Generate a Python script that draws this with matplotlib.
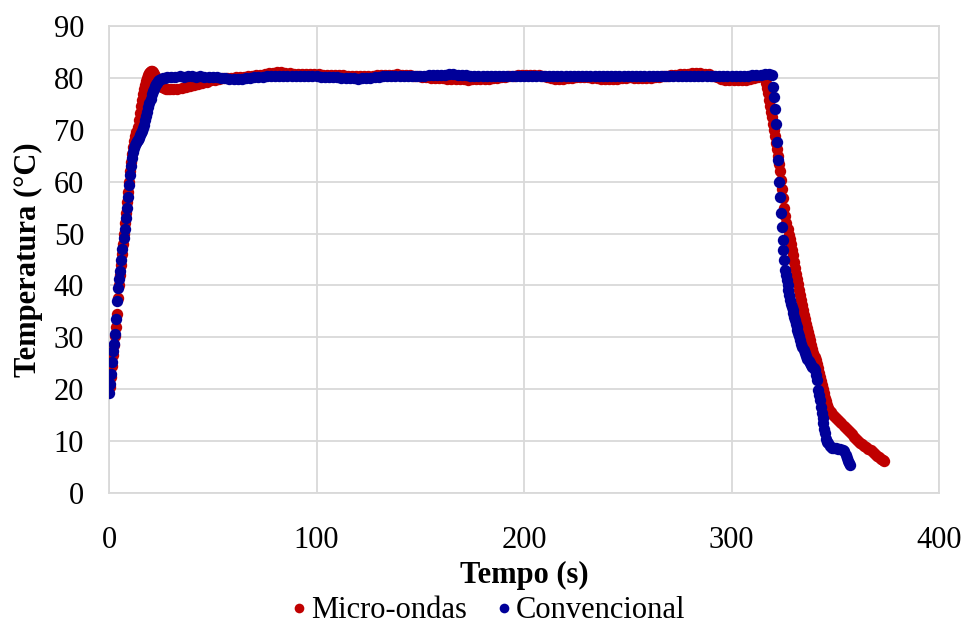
import numpy as np
import matplotlib
matplotlib.use("Agg")
import matplotlib.pyplot as plt

# --- dados (tempo em s, temperatura em °C) ---

# Micro-ondas: aquecimento
t_micro_aq = [0.25, 0.75, 1.25, 1.75, 2.25, 2.75, 3.25, 3.75, 4.25, 4.75,
              5.25, 5.75, 6.25, 6.75, 7.25, 7.75, 8.25, 8.75, 9.25, 9.75,
              10.25, 10.75, 11.25, 11.75, 12.25, 12.75, 13.25, 13.75, 14.25, 14.75,
              15.25, 15.75, 16.25, 16.75, 17.25, 17.75, 18.25, 18.75, 19.25, 19.75,
              20.25, 20.75, 21.25, 21.75, 22.25, 22.75, 23.25, 23.75, 24.25, 24.75,
              25.5, 26.5, 27.5, 28.5, 29.5]
T_micro_aq = [20.5, 22.3, 24.4, 26.5, 28.5, 30.2, 32.0, 34.5, 37.5, 40.0,
              42.0, 44.0, 46.0, 48.0, 50.0, 52.0, 54.0, 56.0, 58.0, 60.0,
              62.0, 63.8, 65.3, 66.6, 67.8, 68.8, 69.6, 70.6, 71.8, 73.2,
              74.6, 75.8, 76.8, 77.8, 78.6, 79.4, 80.0, 80.5, 80.9, 81.2,
              81.3, 81.3, 81.1, 80.8, 80.3, 79.8, 79.3, 78.9, 78.6, 78.4,
              78.2, 78.0, 77.9, 77.8, 77.8]

# Micro-ondas: patamar (registo a cada 2 s, de 31 a 315 s)
t_micro_pat = list(range(31, 316, 2))
T_micro_pat = [77.8, 77.9, 78.1, 78.3, 78.5, 78.7, 78.9, 79.1, 79.3, 79.5, 79.6, 79.8, 79.9,
               80.0, 80.0, 80.1, 80.1, 80.2, 80.3, 80.4, 80.5, 80.6, 80.7,
               80.9, 81.0, 81.1, 81.1, 81.0, 80.9, 80.8,
               80.8, 80.8, 80.7, 80.8, 80.8, 80.7, 80.6, 80.6, 80.6,
               80.6, 80.5, 80.5, 80.4, 80.4, 80.3, 80.3, 80.3, 80.4, 80.4,
               80.5, 80.5, 80.6, 80.6, 80.6, 80.7, 80.6, 80.6, 80.5, 80.4, 80.3, 80.2,
               80.1, 80.0, 80.0, 79.9, 79.9, 79.8, 79.8, 79.7,
               79.7, 79.7, 79.6, 79.7, 79.7, 79.7, 79.8, 79.8, 79.9, 80.0,
               80.1, 80.2, 80.3, 80.4, 80.5, 80.5, 80.6, 80.6, 80.6, 80.5, 80.4, 80.2,
               80.0, 79.8, 79.8, 79.8, 79.9, 80.0, 80.1, 80.2, 80.2, 80.1,
               80.0, 79.9, 79.8, 79.8, 79.7, 79.8, 79.8, 79.9, 80.0, 80.1,
               80.0, 79.9, 79.9, 79.9, 80.0, 80.1, 80.2, 80.3, 80.4, 80.5,
               80.6, 80.7, 80.8, 80.8, 80.9, 80.9, 80.9, 80.8, 80.7, 80.4,
               80.1, 79.8, 79.6, 79.5, 79.5, 79.5, 79.5, 79.6, 79.7, 79.9, 80.1, 80.3]

# Micro-ondas: arrefecimento
t_micro_arr = [316.0, 316.5, 317.0, 317.5, 318.0, 318.5, 319.0, 319.5, 320.0, 320.5,
               321.0, 321.5, 322.0, 322.5, 323.0, 323.5, 324.0, 324.5, 325.0, 325.5,
               326.0, 326.5, 327.0, 327.5, 328.0, 328.5, 329.0, 329.5, 330.0, 330.5,
               331.0, 331.5, 332.0, 332.5, 333.0, 333.5, 334.0, 334.5, 335.0, 335.5,
               336.0, 336.5, 337.0, 337.5, 338.0, 338.5, 339.0, 339.5, 340.0, 340.5,
               341.0, 341.5, 342.0, 342.5, 343.0, 343.5, 344.0, 344.5, 345.0, 345.5,
               346.0, 346.5, 347.0, 348.0, 349.0, 350.0, 351.0, 352.0, 353.0, 354.0,
               355.0, 356.0, 357.0, 358.0, 359.0, 360.0, 361.0, 362.0, 363.0, 364.0,
               365.0, 366.0, 367.0, 368.0, 369.0, 370.0, 371.0, 372.0, 373.0, 373.5]
T_micro_arr = [79.8, 79.0, 78.0, 77.0, 75.8, 74.6, 73.5, 72.4, 71.2, 70.0,
               68.8, 67.5, 66.3, 65.0, 63.5, 62.0, 60.4, 58.6, 56.8, 55.0,
               53.3, 52.0, 50.8, 49.8, 48.9, 48.0, 46.9, 45.8, 44.5, 43.4,
               42.3, 41.2, 40.2, 39.2, 38.2, 37.2, 36.2, 35.3, 34.4, 33.5,
               32.6, 31.8, 31.0, 30.2, 29.4, 28.6, 27.8, 27.0, 26.3, 25.6,
               24.8, 24.0, 23.2, 22.4, 21.6, 20.8, 20.0, 19.2, 18.4, 17.7,
               17.0, 16.4, 15.9, 15.6, 15.1, 14.6, 14.2, 13.8, 13.4, 13.0,
               12.6, 12.2, 11.8, 11.3, 10.8, 10.4, 10.0, 9.7, 9.4, 9.1,
               8.8, 8.5, 8.2, 7.9, 7.6, 7.2, 6.9, 6.6, 6.3, 6.1]

# Convencional: aquecimento
t_conv_aq = [0.0, 0.5, 1.0, 1.5, 2.0, 2.5, 3.0, 3.5, 4.0, 4.5,
             5.0, 5.5, 6.0, 6.5, 7.0, 7.5, 8.0, 8.5, 9.0, 9.5,
             10.0, 10.5, 11.0, 11.5, 12.0, 12.5, 13.0, 13.5, 14.0, 14.5,
             15.0, 15.5, 16.0, 16.5, 17.0, 17.5, 18.0, 18.5, 19.0, 19.5,
             20.0, 20.5, 21.0, 21.5, 22.0, 22.5, 23.0, 23.5, 24.0, 25.0,
             26.0, 27.0, 28.0]
T_conv_aq = [19.3, 21.0, 23.0, 25.2, 27.3, 28.8, 30.6, 33.5, 37.0, 39.6,
             41.2, 42.8, 45.0, 47.0, 49.2, 50.8, 53.0, 55.0, 57.0, 59.3,
             61.3, 63.0, 64.6, 65.8, 66.5, 67.0, 67.4, 67.8, 68.1, 68.5,
             68.9, 69.3, 69.8, 70.4, 71.0, 71.8, 72.6, 73.4, 74.3, 75.2,
             76.0, 76.8, 77.4, 77.9, 78.4, 78.8, 79.1, 79.4, 79.6, 79.8,
             79.9, 80.0, 80.1]

# Convencional: patamar (registo a cada 2 s, de 30 a 318 s)
t_conv_pat = list(range(30, 319, 2))
T_conv_pat = [80.2, 80.2, 80.3, 80.2, 80.3, 80.3, 80.2, 80.3, 80.2, 80.2, 80.1, 80.1, 80.0, 79.9, 79.8,
              79.7, 79.7, 79.8, 79.9, 80.0, 80.1, 80.2, 80.2, 80.3, 80.3,
              80.4, 80.4, 80.4, 80.4, 80.4, 80.4, 80.3, 80.4, 80.4, 80.3,
              80.3, 80.2, 80.2, 80.2, 80.1, 80.1, 80.0, 80.0, 79.9, 79.9,
              79.8, 79.9, 79.9, 80.0, 80.1, 80.2, 80.3, 80.3, 80.3, 80.3,
              80.4, 80.4, 80.4, 80.4, 80.4, 80.4, 80.4, 80.5, 80.5, 80.5,
              80.6, 80.6, 80.7, 80.7, 80.6, 80.5, 80.5, 80.4, 80.4, 80.4,
              80.4, 80.4, 80.3, 80.4, 80.4, 80.4, 80.3, 80.4, 80.4, 80.4,
              80.4, 80.3, 80.3, 80.4, 80.4, 80.3, 80.3, 80.3, 80.4, 80.4,
              80.4, 80.3, 80.3, 80.3, 80.4, 80.4, 80.3, 80.3, 80.3, 80.4,
              80.4, 80.3, 80.3, 80.4, 80.4, 80.4, 80.3, 80.3, 80.4, 80.4,
              80.4, 80.3, 80.3, 80.4, 80.4, 80.4, 80.4, 80.3, 80.3, 80.4,
              80.4, 80.4, 80.4, 80.4, 80.4, 80.4, 80.4, 80.3, 80.3, 80.3,
              80.3, 80.3, 80.4, 80.4, 80.4, 80.5, 80.5, 80.6, 80.7, 80.7]

# Convencional: arrefecimento
t_conv_arr = [319.4, 320.2, 320.5, 321.0, 321.4, 321.8, 322.6, 323.0, 323.4, 323.7,
              324.2, 324.7, 325.0, 325.3, 325.8, 326.2, 326.6, 327.0, 327.4, 327.8,
              328.2, 328.6, 329.0, 329.4, 329.8, 330.2, 330.6, 331.0, 331.4, 331.8,
              332.2, 332.6, 333.0, 333.6, 334.2, 334.8, 335.4, 336.0, 336.6, 337.2,
              337.8, 338.4, 339.0, 339.6, 340.2, 340.8, 341.4, 341.8, 342.2, 342.7,
              343.1, 343.5, 343.9, 344.2, 344.7, 345.1, 345.7, 346.2, 346.7, 347.5,
              348.5, 349.5, 350.5, 351.5, 352.5, 353.5, 354.3, 355.0, 355.6, 356.2,
              356.8, 357.3]
T_conv_arr = [80.5, 78.3, 76.4, 74.1, 71.2, 67.7, 64.2, 60.0, 57.1, 53.9,
              51.3, 48.7, 46.8, 44.9, 43.0, 42.0, 41.0, 40.0, 39.1, 38.1,
              37.2, 36.5, 35.9, 35.2, 34.6, 34.0, 33.3, 32.6, 32.0, 31.4,
              30.8, 30.2, 29.5, 28.8, 28.2, 27.5, 26.9, 26.4, 25.9, 25.4,
              25.0, 24.6, 24.3, 24.0, 23.7, 22.8, 21.8, 19.8, 18.9, 17.9,
              16.6, 15.4, 14.4, 13.4, 12.4, 11.5, 10.5, 9.9, 9.6, 9.1,
              8.7, 8.6, 8.6, 8.5, 8.4, 8.3, 8.0, 7.4, 6.8, 6.2,
              5.7, 5.4]

t_micro = t_micro_aq + t_micro_pat + t_micro_arr
T_micro = T_micro_aq + T_micro_pat + T_micro_arr
t_conv = t_conv_aq + t_conv_pat + t_conv_arr
T_conv = T_conv_aq + T_conv_pat + T_conv_arr

VERMELHO = '#C00000'
AZUL = '#000099'
CINZA = '#D9D9D9'

plt.rcParams['font.family'] = ['Liberation Serif', 'DejaVu Serif']

fig = plt.figure(figsize=(9.66, 6.28), dpi=100)
ax = fig.add_axes([109 / 966, 1 - 493 / 628, 830 / 966, 467 / 628])

ax.plot(t_micro, T_micro, 'o', color=VERMELHO, markersize=8.2, markeredgewidth=0,
        label='Micro-ondas', zorder=3)
ax.plot(t_conv, T_conv, 'o', color=AZUL, markersize=8.2, markeredgewidth=0,
        label='Convencional', zorder=4)

ax.set_xlim(0, 400)
ax.set_ylim(0, 90)
ax.set_xticks(np.arange(0, 401, 100))
ax.set_yticks(np.arange(0, 91, 10))
ax.grid(True, color=CINZA, linewidth=1.3, zorder=0)
ax.set_axisbelow(True)
for s in ax.spines.values():
    s.set_color(CINZA)
    s.set_linewidth(1.3)
ax.tick_params(length=0, labelsize=22)
ax.tick_params(axis='x', pad=24)
ax.tick_params(axis='y', pad=18)

ax.set_xlabel('Tempo (s)', fontsize=22, fontweight='bold', labelpad=4)
ax.set_ylabel('Temperatura (°C)', fontsize=22, fontweight='bold', labelpad=8)

fig.legend(loc='center', bbox_to_anchor=(0.5, 1 - 611 / 628), ncol=2, frameon=False,
           fontsize=22, markerscale=0.85, handletextpad=-0.2, columnspacing=0.6,
           handlelength=1.2)

fig.savefig('out.png', dpi=100)
